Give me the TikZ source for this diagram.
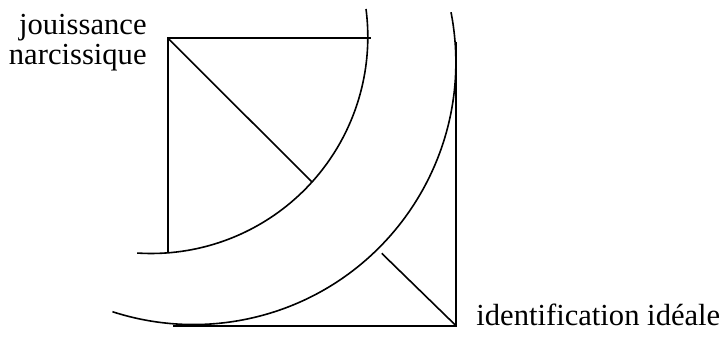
\documentclass[tikz,border=0pt]{standalone}
\usepackage{fontspec}
\setmainfont{Liberation Serif}
\usetikzlibrary{positioning}

\begin{document}
\begin{tikzpicture}[x=0.5pt, y=0.5pt, every node/.style={inner sep=0pt},
  lbl/.style={font=\fontsize{15.3}{14.7}\selectfont, align=right},
  stroke/.style={line width=0.8pt}]
\useasboundingbox (0,0) rectangle (727,-342);
\coordinate (A) at (168,-38.3);
\coordinate (B) at (456,-325.7);
\coordinate (topend) at (371,-38.3);
\coordinate (leftend) at (168,-253.3);
\coordinate (diagend) at (312.3,-182.3);
\coordinate (rtop) at (456,-41.7);
\coordinate (botstart) at (173.3,-325.7);
\coordinate (lowdiag) at (381.7,-253.3);
\coordinate (innertop) at (366,-9);
\coordinate (outertop) at (451,-12.2);
\draw[stroke] (leftend) -- (A) -- (topend);
\draw[stroke] (A) -- (diagend);
\draw[stroke] (rtop) -- (B) -- (botstart);
\draw[stroke] (lowdiag) -- (B);
\draw[stroke] (innertop) arc[start angle=7.4, end angle=-93.7, radius=216.6];
\draw[stroke] (outertop) arc[start angle=11, end angle=-108, radius=262.3];
\node[lbl, left=10.5pt of A, yshift=-2.1pt] (jn) {jouissance\\narcissique};
\node[lbl, right=10pt of B, anchor=base west] (ii) {identification idéale};
\end{tikzpicture}
\end{document}
